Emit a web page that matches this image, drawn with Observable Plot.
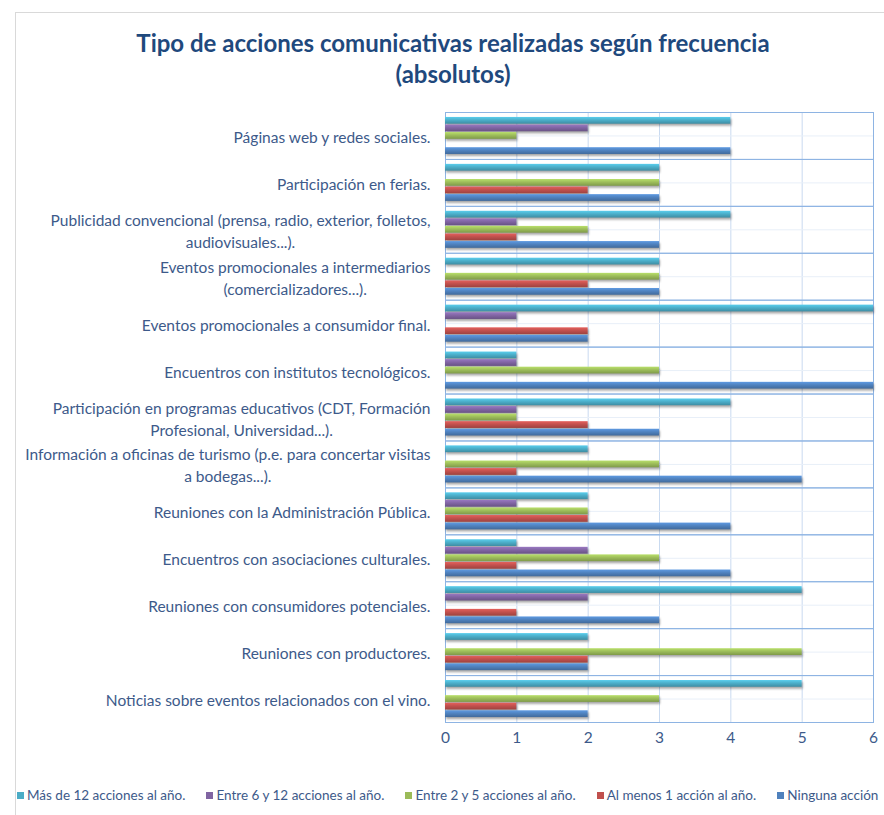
<!DOCTYPE html>
<html>
<head>
<meta charset="utf-8">
<script src="https://cdn.jsdelivr.net/npm/d3@7"></script>
<script src="https://cdn.jsdelivr.net/npm/@observablehq/plot@0.6"></script>
<style>
  html, body { margin: 0; padding: 0; background: #fff; }
  body { width: 884px; height: 815px; position: relative; overflow: hidden; font-family: Lato, "Open Sans", sans-serif; }
  #frame { position: absolute; left: 15px; top: 12px; width: 880px; height: 820px; border-left: 1px solid #d9d9d9; border-top: 1px solid #d9d9d9; }
  #title { position: absolute; left: 0; top: 27px; width: 906px; text-align: center; font-weight: bold; font-size: 24px; line-height: 31px; color: #1F497D; }
  #chart { position: absolute; left: 0; top: 100px; }
  #legend { position: absolute; left: 17px; top: 787px; display: flex; font-size: 13.5px; color: #3D5A8A; white-space: nowrap; }
  #legend .item { display: flex; align-items: center; margin-right: 21px; }
  #legend .item:last-child { margin-right: 0; }
  #legend .sw { width: 7px; height: 7px; margin-right: 3px; }
  g[aria-label="bar"] { filter: drop-shadow(1px 2px 1.2px rgba(0,0,0,0.35)); }
</style>
</head>
<body>
<div id="frame"></div>
<div id="title">Tipo de acciones comunicativas realizadas según frecuencia<br>(absolutos)</div>
<div id="chart"></div>
<div id="legend"></div>
<script>
// ---- Data ----
const categories = [
  "Páginas web y redes sociales.",
  "Participación en ferias.",
  "Publicidad convencional (prensa, radio, exterior, folletos, audiovisuales...).",
  "Eventos promocionales a intermediarios (comercializadores...).",
  "Eventos promocionales a consumidor final.",
  "Encuentros con institutos tecnológicos.",
  "Participación en programas educativos (CDT, Formación Profesional, Universidad...).",
  "Información a oficinas de turismo (p.e. para concertar visitas a bodegas...).",
  "Reuniones con la Administración Pública.",
  "Encuentros con asociaciones culturales.",
  "Reuniones con consumidores potenciales.",
  "Reuniones con productores.",
  "Noticias sobre eventos relacionados con el vino."
];
const categoryLabels = [
  "Páginas web y redes sociales.",
  "Participación en ferias.",
  "Publicidad convencional (prensa, radio, exterior, folletos,\naudiovisuales...).",
  "Eventos promocionales a intermediarios\n(comercializadores...).",
  "Eventos promocionales a consumidor final.",
  "Encuentros con institutos tecnológicos.",
  "Participación en programas educativos (CDT, Formación\nProfesional, Universidad...).",
  "Información a oficinas de turismo (p.e. para concertar visitas\na bodegas...).",
  "Reuniones con la Administración Pública.",
  "Encuentros con asociaciones culturales.",
  "Reuniones con consumidores potenciales.",
  "Reuniones con productores.",
  "Noticias sobre eventos relacionados con el vino."
];
const series = [
  "Más de 12 acciones al año.",
  "Entre 6 y 12 acciones al año.",
  "Entre 2 y 5 acciones al año.",
  "Al menos 1 acción al año.",
  "Ninguna acción"
];
const masDe12   = [4, 3, 4, 3, 6, 1, 4, 2, 2, 1, 5, 2, 5];
const entre6y12 = [2, 0, 1, 0, 1, 1, 1, 0, 1, 2, 2, 0, 0];
const entre2y5  = [1, 3, 2, 3, 0, 3, 1, 3, 2, 3, 0, 5, 3];
const alMenos1  = [0, 2, 1, 2, 2, 0, 2, 1, 2, 1, 1, 2, 1];
const ninguna   = [4, 3, 3, 3, 2, 6, 3, 5, 4, 4, 3, 2, 2];
const xTicks = [0, 1, 2, 3, 4, 5, 6];

const seriesValues = [masDe12, entre6y12, entre2y5, alMenos1, ninguna];
const seriesColors = ["#4BACC6", "#8064A2", "#9BBB59", "#C0504D", "#4F81BD"];

const rows = categories.flatMap((c, i) => series.map((s, j) => ({category: c, series: s, value: seriesValues[j][i]})));
const labelMap = new Map(categories.map((c, i) => [c, categoryLabels[i]]));

const plot = Plot.plot({
  width: 884,
  height: 660,
  marginLeft: 445,
  marginRight: 11,
  marginTop: 12,
  marginBottom: 38,
  style: {fontFamily: "Lato, 'Open Sans', sans-serif", background: "transparent"},
  x: {domain: [0, 6], ticks: xTicks},
  y: {domain: series, paddingInner: 0, paddingOuter: 0.6, axis: null, round: false},
  fy: {domain: categories, paddingInner: 0, paddingOuter: 0, round: false, label: null},
  marks: [
    Plot.gridX(xTicks, {stroke: "#C9DAF0", strokeOpacity: 1}),
    Plot.ruleY([series[2]], {y: d => d, stroke: "#E8EFF8", strokeOpacity: 1}),
    Plot.frame({stroke: "#8EB4E3", strokeOpacity: 1}),
    ...series.map((s, j) => Plot.barX(rows.filter(r => r.series === s && r.value > 0), {
      x: "value", y: "series", fy: "category",
      fill: `url(#grad${j})`, insetTop: 0.4, insetBottom: 0.4
    })),
    Plot.axisFy({anchor: "left", tickSize: 0, tickPadding: 15, label: null,
      tickFormat: c => labelMap.get(c), fontSize: 15.5, fill: "#3D5A8A", lineHeight: 1.42}),
    Plot.axisX(xTicks, {tickSize: 0, tickPadding: 9, label: null, fontSize: 15.5, fill: "#3D5A8A"})
  ]
});

// gradients for bars
const ns = "http://www.w3.org/2000/svg";
const defs = document.createElementNS(ns, "defs");
seriesColors.forEach((col, j) => {
  const c = d3.color(col);
  const g = document.createElementNS(ns, "linearGradient");
  g.setAttribute("id", `grad${j}`);
  g.setAttribute("x1", "0"); g.setAttribute("y1", "0");
  g.setAttribute("x2", "0"); g.setAttribute("y2", "1");
  [[0, c.brighter(0.5)], [0.45, c.brighter(0.05)], [1, c.darker(0.55)]].forEach(([o, cc]) => {
    const st = document.createElementNS(ns, "stop");
    st.setAttribute("offset", o);
    st.setAttribute("stop-color", cc.formatHex());
    g.appendChild(st);
  });
  defs.appendChild(g);
});
plot.insertBefore(defs, plot.firstChild);
document.getElementById("chart").appendChild(plot);

// center multi-line category labels within their right-aligned block
plot.querySelectorAll('g[aria-label="fy-axis tick label"] text').forEach(t => {
  const w = t.getBBox().width;
  t.setAttribute("text-anchor", "middle");
  const tr = t.getAttribute("transform") || "";
  t.setAttribute("transform", `${tr} translate(${-w / 2},0)`);
});

// legend
const legend = document.getElementById("legend");
series.forEach((s, j) => {
  const item = document.createElement("div");
  item.className = "item";
  const sw = document.createElement("div");
  sw.className = "sw";
  sw.style.background = seriesColors[j];
  const tx = document.createElement("span");
  tx.textContent = s;
  item.appendChild(sw); item.appendChild(tx);
  legend.appendChild(item);
});
</script>
</body>
</html>
